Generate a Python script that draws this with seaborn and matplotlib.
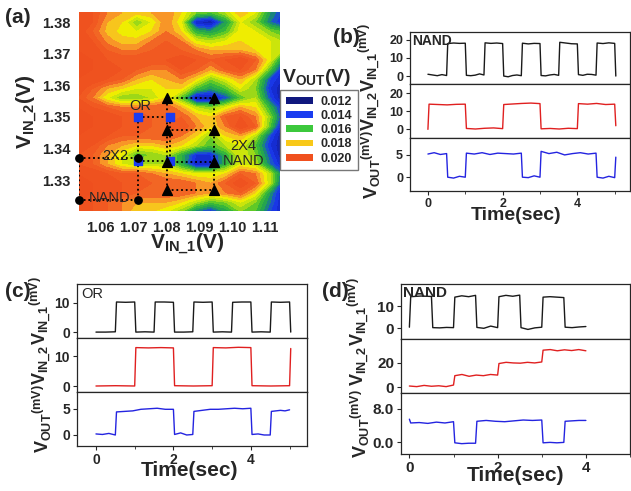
import numpy as np
import matplotlib
matplotlib.use('Agg')
import matplotlib.pyplot as plt
import seaborn as sns
from matplotlib.colors import LinearSegmentedColormap
from matplotlib.patches import Patch

# ---------------- data ----------------
# (a) V_OUT map, grid in V, values in mV
vin1_grid = [1.053, 1.0575, 1.062, 1.0665, 1.071, 1.0755, 1.080, 1.0845,
             1.089, 1.0935, 1.098, 1.1025, 1.107, 1.1115, 1.115]
vin2_grid = [1.320, 1.323, 1.326, 1.329, 1.332, 1.335, 1.338, 1.341, 1.344,
             1.347, 1.350, 1.353, 1.356, 1.359, 1.362, 1.365, 1.368, 1.371,
             1.374, 1.377, 1.380, 1.383]
vout_map_mv = [
    [20.5, 20.0, 19.5, 19.0, 18.0, 18.0, 17.5, 16.5, 14.5, 13.5, 15.0, 16.5, 16.0, 14.0, 13.0],  # 1.320
    [20.5, 20.0, 19.5, 19.0, 18.5, 18.5, 18.5, 18.0, 17.0, 16.0, 16.5, 17.5, 16.5, 14.5, 13.0],  # 1.323
    [21.0, 20.5, 20.5, 20.0, 19.5, 19.5, 19.5, 19.5, 19.0, 18.5, 19.0, 19.5, 18.0, 15.0, 13.0],  # 1.326
    [21.0, 20.5, 20.5, 20.0, 20.0, 19.5, 19.5, 19.5, 19.0, 18.5, 19.5, 20.5, 19.5, 17.0, 14.0],  # 1.329
    [20.5, 20.5, 20.0, 19.5, 19.5, 19.0, 18.5, 18.0, 17.5, 17.5, 18.0, 19.5, 19.0, 17.0, 14.5],  # 1.332
    [20.0, 19.5, 18.5, 17.5, 17.0, 17.0, 17.0, 15.5, 13.0, 13.0, 15.5, 17.5, 17.0, 14.5, 13.0],  # 1.335
    [20.0, 19.5, 18.5, 17.5, 16.0, 16.5, 17.0, 15.5, 13.5, 13.5, 15.5, 17.5, 16.5, 14.0, 12.5],  # 1.338
    [20.5, 20.0, 19.0, 18.5, 18.0, 18.0, 18.5, 18.0, 17.0, 16.0, 17.0, 17.5, 16.0, 13.5, 12.5],  # 1.341
    [20.5, 20.5, 20.0, 19.5, 19.5, 19.5, 19.5, 19.0, 18.0, 16.5, 18.0, 18.5, 17.0, 14.0, 12.5],  # 1.344
    [21.0, 20.5, 20.5, 20.0, 20.0, 19.5, 19.5, 20.0, 19.0, 18.0, 19.0, 20.5, 19.5, 16.0, 13.0],  # 1.347
    [21.0, 20.5, 20.5, 20.0, 20.0, 19.5, 19.5, 19.5, 18.5, 18.0, 19.5, 20.0, 19.0, 16.5, 14.0],  # 1.350
    [20.5, 20.0, 19.5, 19.0, 19.0, 19.5, 19.5, 18.5, 17.0, 16.5, 17.5, 18.5, 18.0, 15.5, 13.5],  # 1.353
    [20.0, 19.0, 17.5, 16.5, 16.5, 17.0, 18.0, 16.0, 12.5, 12.5, 14.0, 16.0, 17.0, 14.0, 12.5],  # 1.356
    [20.5, 19.5, 18.5, 18.0, 17.5, 17.5, 18.0, 18.0, 16.0, 15.0, 16.0, 17.5, 16.5, 13.5, 12.5],  # 1.359
    [20.5, 20.5, 20.0, 19.5, 18.5, 18.0, 18.5, 19.0, 18.0, 16.5, 17.5, 18.5, 17.0, 14.0, 13.0],  # 1.362
    [21.0, 20.5, 20.5, 20.0, 19.5, 19.0, 19.0, 20.0, 19.5, 18.5, 19.5, 20.0, 19.0, 16.0, 13.5],  # 1.365
    [21.0, 20.5, 20.0, 20.0, 20.0, 20.0, 20.0, 20.5, 20.0, 19.5, 20.0, 20.5, 19.5, 17.5, 15.0],  # 1.368
    [20.5, 20.5, 19.5, 19.0, 19.0, 19.5, 20.0, 19.5, 19.0, 18.5, 18.5, 18.5, 18.0, 17.5, 17.0],  # 1.371
    [20.5, 20.0, 18.8, 18.2, 18.2, 19.0, 19.5, 19.0, 17.5, 17.0, 17.5, 18.0, 18.0, 17.5, 17.0],  # 1.374
    [20.5, 19.5, 18.3, 17.8, 17.5, 18.0, 19.0, 18.0, 15.5, 15.0, 16.0, 17.8, 17.5, 16.5, 16.0],  # 1.377
    [20.5, 20.0, 18.5, 18.0, 16.5, 17.5, 19.0, 17.5, 13.0, 12.5, 15.0, 17.5, 16.5, 14.5, 13.5],  # 1.380
    [20.5, 20.0, 19.0, 18.5, 18.2, 18.5, 19.0, 18.0, 16.5, 16.0, 17.0, 18.5, 17.5, 15.0, 14.0],  # 1.383
]
legend_levels = [0.012, 0.014, 0.016, 0.018, 0.020]
legend_colors = ['#10187e', '#1a3cf0', '#3cc83c', '#f8c818', '#f0501e']

# operating points
nand22_x = [1.0535, 1.0715]
nand22_y = [1.3237, 1.337]
or_x = [1.0715, 1.081]
or_y = [1.336, 1.350]
nand24_x = [1.0803, 1.0945]
nand24_y = [1.3268, 1.3357, 1.346, 1.356]

# (b) NAND, 1 Hz
b_in1_edges = [0, 0.5, 1.0, 1.5, 2.0, 2.5, 3.0, 3.5, 4.0, 4.5, 5.0]
b_in1 = [[1.0, 0.6, 0.2, 0.8, 0.3], [18.0, 18.3, 18.1, 18.2], [0.4, 0.2, 0.5, 1.2, 0.6],
         [18.4, 18.1, 18.3, 18.0], [0.0, -0.4, 0.3, 0.6, 0.2], [18.2, 17.8, 18.1, 18.0],
         [0.3, 0.1, 0.6, 0.9, 0.4], [18.7, 18.3, 17.9, 17.8], [0.8, 0.4, 1.0, 0.9, 0.5],
         [18.3, 18.0, 18.4, 18.1]]
b_in2_edges = [0, 1.0, 2.0, 3.0, 4.0, 5.0]
b_in2 = [[14.0, 13.8, 13.6, 13.9, 14.0], [0.5, 0.2, 0.6, 0.8, 0.4], [13.8, 14.1, 14.4, 14.6, 14.3],
         [0.3, 0.5, 0.2, 0.6, 0.4], [14.3, 14.0, 14.4, 13.8, 14.0]]
b_out_edges = [0, 0.5, 1.0, 2.5, 3.0, 4.5, 5.0]
b_out = [[5.2, 5.5, 5.1, 5.3], [0.0, -0.2, 0.2, 0.0], [5.4, 5.2, 5.5, 5.1, 5.4, 5.3, 5.2, 5.4],
         [0.0, -0.1, 0.3, 0.0], [5.8, 5.3, 5.6, 5.0, 5.3, 5.5, 5.2, 5.4], [0.0, -0.2, 0.2, -0.1]]

# (c) OR
c_in1_edges = [0, 0.5, 1.0, 1.5, 2.0, 2.5, 3.0, 3.5, 4.0, 4.5, 5.0]
c_in1 = [[0.0, 0.0, 0.1], [10.2, 10.1, 10.2], [0.0, 0.1, 0.0], [10.2, 10.2, 10.1],
         [0.0, 0.0, 0.1], [10.2, 10.1, 10.2], [0.0, 0.1, 0.0], [10.1, 10.2, 10.2],
         [0.0, 0.1, 0.0], [10.2, 10.1, 10.2]]
c_in2_edges = [0, 1.0, 2.0, 3.0, 4.0, 5.0]
c_in2 = [[0.0, 0.1, 0.0], [12.8, 12.7, 12.8, 12.7], [0.1, 0.0, 0.1], [12.8, 12.7, 12.9, 12.8], [0.1, 0.0, 0.1]]
c_out_edges = [0, 0.5, 2.0, 2.5, 4.0, 4.5, 5.0]
c_out = [[0.2, 0.1, 0.3, 0.0], [4.4, 4.5, 4.6, 4.9, 5.0, 5.1, 4.9, 4.9], [0.1, 0.4, 0.0, 0.1],
         [4.5, 4.7, 4.9, 4.9, 5.0, 5.1, 5.0, 5.1], [0.1, 0.2, 0.0, 0.0], [4.5, 4.6, 4.7, 4.6, 4.8]]

# (d) NAND with stepped V_IN_2
d_in1_edges = [0, 0.5, 1.0, 1.5, 2.0, 2.5, 3.0, 3.5, 4.0]
d_in1 = [[14.2, 14.5, 14.3], [0.3, 0.2, 0.4, 0.3], [14.0, 14.6, 14.2, 14.8], [0.4, 0.0, 1.0, 0.3],
         [14.2, 14.8, 14.4, 14.9], [0.3, -0.5, 0.2, 0.5], [14.0, 14.2, 14.0, 13.8], [0.5, 0.3, 0.6, 0.8]]
d_in2_edges = [0, 1.0, 2.0, 3.0, 4.0]
d_in2 = [[1.0, 0.5, 1.5, 0.8, 1.2, 0.5, 1.8], [9.5, 10.5, 9.0, 10.0, 9.5, 10.5, 10.0],
         [19.5, 20.5, 20.0, 19.8, 20.5, 20.0, 20.8], [30.5, 31.0, 30.0, 30.8, 30.2, 31.0, 30.0]]
d_out_edges = [0, 1.0, 1.5, 3.0, 3.5, 4.0]
d_out = [[4.6, 4.7, 4.5, 4.8, 4.6, 4.9], [-0.1, -0.3, -0.2, -0.2], [5.0, 5.2, 5.0, 4.9, 5.1, 5.3, 5.2, 5.3],
         [-0.1, 0.0, -0.1, 0.0], [5.0, 5.1, 5.2, 5.2]]


def trace(edges, segs, start=None, end=None, ramp=0.03):
    # spread the read levels of each segment across it, with short edges
    t, v = [], []
    if start is not None:
        t.append(edges[0])
        v.append(start)
    for i, vals in enumerate(segs):
        t0 = edges[i] + (ramp if (i > 0 or start is not None) else 0)
        t1 = edges[i + 1]
        n = len(vals)
        for k, val in enumerate(vals):
            t.append(t0 + (t1 - t0) * k / (n - 1))
            v.append(val)
    if end is not None:
        t.append(edges[-1] + ramp)
        v.append(end)
    return t, v


# ---------------- style ----------------
sns.set_style('ticks')
plt.rcParams['font.family'] = ['Liberation Sans', 'DejaVu Sans']
plt.rcParams['font.weight'] = 'bold'
plt.rcParams['axes.labelweight'] = 'bold'
plt.rcParams['mathtext.fontset'] = 'custom'
plt.rcParams['mathtext.rm'] = 'Liberation Sans:bold'
plt.rcParams['mathtext.it'] = 'Liberation Sans:bold'
plt.rcParams['mathtext.bf'] = 'Liberation Sans:bold'
plt.rcParams['axes.linewidth'] = 0.9

W, H = 631, 491
fig = plt.figure(figsize=(W / 100, H / 100), dpi=100)


def rect(l, t, r, b):
    return [l / W, 1 - b / H, (r - l) / W, (b - t) / H]


# ---------------- (a) ----------------
ax = fig.add_axes(rect(79, 12, 280, 211))
anchors = [(11.0, '#0c1060'), (12.0, '#10187e'), (13.0, '#1428c8'), (14.0, '#1a3cf0'),
           (15.0, '#1c9c58'), (16.0, '#40c030'), (17.0, '#b8e010'), (17.8, '#f2ee00'),
           (18.3, '#f8c020'), (18.8, '#f89028'), (19.3, '#f26424'), (20.0, '#f05420'),
           (21.5, '#ec4a1c')]
lo, hi = anchors[0][0], anchors[-1][0]
cmap = LinearSegmentedColormap.from_list('vout', [((a - lo) / (hi - lo), c) for a, c in anchors])
Z = np.array(vout_map_mv) / 1000
ax.contourf(vin1_grid, vin2_grid, Z, levels=np.arange(11.0, 21.51, 0.5) / 1000,
            cmap=cmap, vmin=lo / 1000, vmax=hi / 1000, extend='both')

dot = dict(color='black', lw=1.3, ls=(0, (1, 1.6)), zorder=3)
for xs, ys in [(nand22_x, nand22_y), (or_x, or_y), (nand24_x, nand24_y)]:
    for yv in ys:
        ax.plot([min(xs), max(xs)], [yv, yv], **dot)
    for xv in xs:
        ax.plot([xv, xv], [min(ys), max(ys)], **dot)
ox, oy = np.meshgrid(or_x, or_y)
ax.scatter(ox.ravel(), oy.ravel(), marker='s', s=34, color='#1a3cf0', zorder=4, clip_on=False)
nx, ny = np.meshgrid(nand22_x, nand22_y)
ax.scatter(nx.ravel(), ny.ravel(), marker='o', s=28, color='black', zorder=5, clip_on=False)
tx, ty = np.meshgrid(nand24_x, nand24_y)
ax.scatter(tx.ravel(), ty.ravel(), marker='^', s=50, color='black', zorder=5)

ax.set_xlim(1.0535, 1.1145)
ax.set_ylim(1.3202, 1.3832)
ax.set_xticks([1.06, 1.07, 1.08, 1.09, 1.10, 1.11])
ax.set_xticklabels(['1.06', '1.07', '1.08', '1.09', '1.10', '1.11'])
ax.set_yticks([1.33, 1.34, 1.35, 1.36, 1.37, 1.38])
ax.set_yticklabels(['1.33', '1.34', '1.35', '1.36', '1.37', '1.38'])
ax.tick_params(axis='both', length=0, labelsize=10.5)
ax.tick_params(axis='x', pad=7)
ax.tick_params(axis='y', pad=6)
for s in ax.spines.values():
    s.set_visible(False)
ax.set_ylabel('V$_{IN\\_2}$(V)', fontsize=15)
ax.yaxis.set_label_coords(-0.2, 0.5)
ax.set_xlabel('V$_{IN\\_1}$(V)', fontsize=15)
ax.xaxis.set_label_coords(0.54, -0.1)

fs = dict(fontsize=10.5, fontweight='normal', zorder=6)
ax.text(1.0721, 1.3522, 'OR', ha='center', va='baseline', **fs)
ax.text(1.0645, 1.3363, '2X2', ha='center', va='baseline', **fs)
ax.text(1.0565, 1.3231, 'NAND', ha='left', va='baseline', **fs)
ax.text(1.1033, 1.3395, '2X4', ha='center', va='baseline', **fs)
ax.text(1.1033, 1.3348, 'NAND', ha='center', va='baseline', **fs)

handles = [Patch(facecolor=c, edgecolor='none') for c in legend_colors]
fig.legend(handles, ['%.3f' % v for v in legend_levels], loc='upper left',
           bbox_to_anchor=(280 / W, 1 - 90 / H), bbox_transform=fig.transFigure,
           frameon=True, fancybox=False, edgecolor='#555555', fontsize=9,
           handlelength=2.2, handleheight=0.45, labelspacing=0.18, borderpad=0.45,
           handletextpad=0.6, borderaxespad=0)
fig.text(282 / W, 1 - 88 / H, 'V$_{OUT}$(V)', fontsize=14, ha='left', va='bottom')


# ---------------- stacked panels ----------------
def stacked(l, r, ys, xlim, traces, ylims, yticks, ylabels, tick_fs, lab_fs,
            lab_x, time_xy, time_fs):
    axes = []
    for i, (tr, yl, yt, lab) in enumerate(zip(traces, ylims, yticks, ylabels)):
        a = fig.add_axes(rect(l, ys[i], r, ys[i + 1]))
        t, v, col = tr
        sns.lineplot(x=t, y=v, ax=a, color=col, lw=1.0, sort=False, estimator=None)
        a.set_xlim(*xlim)
        a.set_ylim(*yl)
        a.set_yticks(yt)
        a.tick_params(axis='both', direction='out', length=3, width=0.8,
                      labelsize=tick_fs, pad=2)
        a.set_ylabel(lab, fontsize=lab_fs)
        a.yaxis.set_label_coords(lab_x, 0.5)
        a.set_xticks([0, 2, 4])
        a.set_xticks([1, 3, 5], minor=True)
        a.tick_params(axis='x', which='minor', length=2)
        if i < 2:
            a.tick_params(axis='x', which='both', bottom=False, labelbottom=False)
        else:
            a.set_xlabel('Time(sec)', fontsize=time_fs)
            a.xaxis.set_label_coords(*time_xy)
        axes.append(a)
    return axes


lab1 = 'V$_{IN\\_1}{}^{(mV)}$'
lab2 = 'V$_{IN\\_2}$'
lab3 = 'V$_{OUT}{}^{(mV)}$'

bx = stacked(410, 630, [32, 84, 138, 191], (-0.48, 5.41),
             [(*trace(b_in1_edges, b_in1, end=0.0), '#1a1a1a'),
              (*trace(b_in2_edges, b_in2, start=0.0, end=2.0), '#e02020'),
              (*trace(b_out_edges, b_out, end=4.5), '#2424e0')],
             [(-4.4, 24.4), (-4.8, 25.2), (-3.1, 8.8)],
             [[0, 10, 20], [0, 10, 20], [0, 5]],
             [lab1, lab2, lab3], 9, 13, -0.122, (0.48, -0.30), 14)
bx[0].text(0.01, 0.97, 'NAND', transform=bx[0].transAxes, ha='left', va='top', fontsize=10)

cx = stacked(77, 307, [284, 338, 392, 446], (-0.49, 5.45),
             [(*trace(c_in1_edges, c_in1, end=0.0), '#1a1a1a'),
              (*trace(c_in2_edges, c_in2, end=12.5), '#e02020'),
              (*trace(c_out_edges, c_out), '#2424e0')],
             [(-2.0, 16.3), (-2.0, 16.0), (-2.1, 8.2)],
             [[0, 10], [0, 10], [0, 5]],
             [lab1, lab2, lab3], 10, 13, -0.1, (0.487, -0.27), 15)
cx[0].text(0.02, 0.95, 'OR', transform=cx[0].transAxes, ha='left', va='top',
           fontsize=10.5, fontweight='normal')

dx = stacked(401, 630, [284, 339, 393, 454], (-0.19, 4.12),
             [(*trace(d_in1_edges, d_in1, start=0.5), '#1a1a1a'),
              (*trace(d_in2_edges, d_in2), '#e02020'),
              (*trace(d_out_edges, d_out, start=5.5), '#2424e0')],
             [(-4.8, 19.9), (-4.75, 39.7), (-2.75, 11.7)],
             [[0, 10], [0, 20], [0.0, 8.0]],
             [lab1, lab2, lab3], 11, 13, -0.125, (0.5, -0.19), 15)
dx[2].set_yticklabels(['0.0', '8.0'])
dx[0].text(0.01, 0.97, 'NAND', transform=dx[0].transAxes, ha='left', va='top', fontsize=11)

# panel letters
for txt, px, py in [('(a)', 5, 8), ('(b)', 333, 28), ('(c)', 5, 282), ('(d)', 322, 282)]:
    fig.text(px / W, 1 - py / H, txt, fontsize=15, ha='left', va='top')

fig.savefig('out.png', dpi=100)
